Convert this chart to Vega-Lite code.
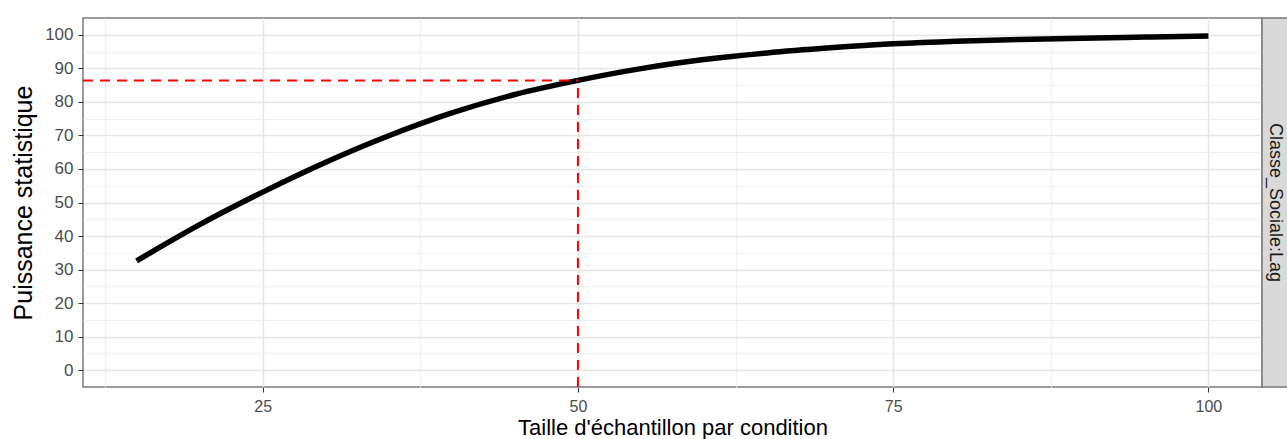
{
  "$schema": "https://vega.github.io/schema/vega-lite/v6.json",
  "background": "white",
  "padding": {"left": 10, "top": 17, "right": 0, "bottom": 0},
  "bounds": "flush",
  "spacing": 0,
  "datasets": {
    "curve": [
      {"n": 15, "power": 32.6},
      {"n": 20, "power": 43.4},
      {"n": 25, "power": 53.1},
      {"n": 30, "power": 62.0},
      {"n": 35, "power": 69.9},
      {"n": 40, "power": 76.7},
      {"n": 45, "power": 82.2},
      {"n": 50, "power": 86.4},
      {"n": 55, "power": 89.9},
      {"n": 60, "power": 92.6},
      {"n": 65, "power": 94.6},
      {"n": 70, "power": 96.1},
      {"n": 75, "power": 97.3},
      {"n": 80, "power": 98.1},
      {"n": 85, "power": 98.6},
      {"n": 90, "power": 99.0},
      {"n": 95, "power": 99.3},
      {"n": 100, "power": 99.6}
    ],
    "guides": [
      {"x": 10.75, "x2": 50, "y": 86.4, "y2": 86.4},
      {"x": 50, "x2": 50, "y": -5, "y2": 86.4}
    ],
    "strip": [{"label": "Classe_Sociale:Lag"}]
  },
  "hconcat": [
    {
      "width": 1179,
      "height": 369,
      "view": {"stroke": "#7a7a7a", "strokeWidth": 1.5, "fill": "white"},
      "layer": [
        {
          "data": {"name": "curve"},
          "mark": {"type": "line", "color": "black", "strokeWidth": 5.5, "interpolate": "monotone", "strokeCap": "butt"},
          "encoding": {
            "x": {
              "field": "n", "type": "quantitative",
              "scale": {"domain": [10.75, 104.25], "nice": false, "zero": false},
              "axis": {
                "title": "Taille d'échantillon par condition",
                "values": [12.5, 25, 37.5, 50, 62.5, 75, 87.5, 100],
                "tickCount": 40,
                "labelExpr": "datum.value % 25 === 0 ? format(datum.value, 'd') : ''",
                "tickOpacity": {"condition": {"test": "datum.value % 25 !== 0", "value": 0}, "value": 1},
                "gridWidth": {"condition": {"test": "datum.value % 25 !== 0", "value": 1}, "value": 1.6},
                "gridColor": {"condition": {"test": "datum.value % 25 !== 0", "value": "#f0f0f0"}, "value": "#e6e6e6"},
                "labelFontSize": 16,
                "labelPadding": 6,
                "titlePadding": 3,
                "titleFontSize": 22
              }
            },
            "y": {
              "field": "power", "type": "quantitative",
              "scale": {"domain": [-5, 105], "nice": false, "zero": false},
              "axis": {
                "title": "Puissance statistique",
                "values": [0, 5, 10, 15, 20, 25, 30, 35, 40, 45, 50, 55, 60, 65, 70, 75, 80, 85, 90, 95, 100],
                "tickCount": 40,
                "labelExpr": "datum.value % 10 === 0 ? format(datum.value, 'd') : ''",
                "tickOpacity": {"condition": {"test": "datum.value % 10 !== 0", "value": 0}, "value": 1},
                "gridWidth": {"condition": {"test": "datum.value % 10 !== 0", "value": 1}, "value": 1.6},
                "gridColor": {"condition": {"test": "datum.value % 10 !== 0", "value": "#f0f0f0"}, "value": "#e6e6e6"},
                "labelFontSize": 17,
                "labelPadding": 5,
                "titlePadding": 8,
                "titleFontSize": 25
              }
            }
          }
        },
        {
          "data": {"name": "guides"},
          "mark": {"type": "rule", "color": "red", "strokeWidth": 2, "strokeDash": [10, 7]},
          "encoding": {
            "x": {"field": "x", "type": "quantitative"},
            "x2": {"field": "x2"},
            "y": {"field": "y", "type": "quantitative"},
            "y2": {"field": "y2"}
          }
        }
      ]
    },
    {
      "width": 26,
      "height": 369,
      "view": {"stroke": "#7a7a7a", "strokeWidth": 1.5, "fill": "#d9d9d9"},
      "data": {"name": "strip"},
      "mark": {"type": "text", "angle": 90, "align": "center", "baseline": "middle", "fontSize": 18, "color": "#1a1a1a"},
      "encoding": {"text": {"field": "label", "type": "nominal"}}
    }
  ],
  "config": {
    "font": "Liberation Sans",
    "axis": {
      "domain": false,
      "tickColor": "#333333",
      "tickSize": 5,
      "tickWidth": 1,
      "labelColor": "#4d4d4d",
      "labelOverlap": false,
      "labelFlush": false,
      "titleColor": "#000000",
      "titleFontWeight": "normal",
      "grid": true
    }
  }
}
